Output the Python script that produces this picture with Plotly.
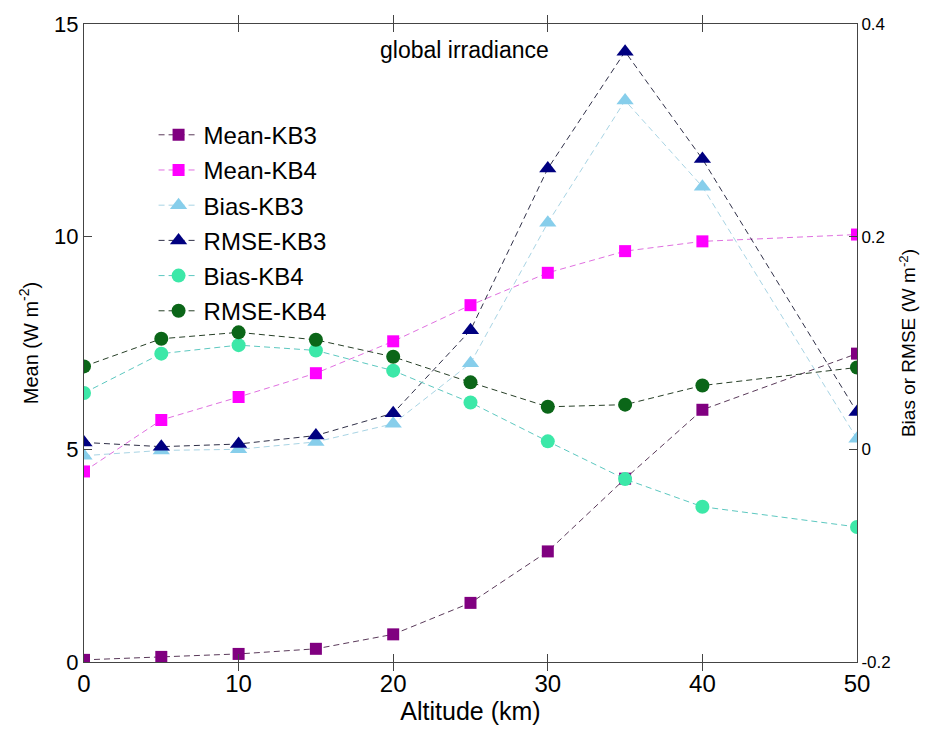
import plotly.graph_objects as go

altitude = [0, 5, 10, 15, 20, 25, 30, 35, 40, 50]

mean_kb3 = [0.05, 0.12, 0.19, 0.31, 0.65, 1.39, 2.60, 4.31, 5.93, 7.25]
mean_kb4 = [4.48, 5.69, 6.23, 6.79, 7.54, 8.39, 9.15, 9.66, 9.89, 10.05]
bias_kb3 = [-0.006, -0.001, 0.000, 0.007, 0.024, 0.081, 0.213, 0.328, 0.247, 0.010]
rmse_kb3 = [0.0065, 0.0025, 0.005, 0.013, 0.034, 0.112, 0.264, 0.374, 0.273, 0.035]
bias_kb4 = [0.053, 0.090, 0.098, 0.093, 0.074, 0.044, 0.0075, -0.028, -0.054, -0.073]
rmse_kb4 = [0.078, 0.104, 0.110, 0.103, 0.087, 0.063, 0.040, 0.042, 0.060, 0.077]

x_ticks = [0, 10, 20, 30, 40, 50]
left_ticks = [0, 5, 10, 15]
right_ticks = [-0.2, 0, 0.2, 0.4]
right_tick_text = ["-0.2", "0", "0.2", "0.4"]

FONT = "Arial, Liberation Sans, sans-serif"

series = [
    ("Mean-KB3", mean_kb3, "y", "square", "#800080", "#5a3a5a", 12),
    ("Mean-KB4", mean_kb4, "y", "square", "#ff00ff", "#e070e0", 12),
    ("Bias-KB3", bias_kb3, "y2", "triangle-up", "#87ceeb", "#a8d4e4", 15),
    ("RMSE-KB3", rmse_kb3, "y2", "triangle-up", "#000080", "#303048", 15),
    ("Bias-KB4", bias_kb4, "y2", "circle", "#3ce8a8", "#5cc8c0", 14),
    ("RMSE-KB4", rmse_kb4, "y2", "circle", "#0b6618", "#284028", 14),
]

fig = go.Figure()
for i, (name, vals, ax, sym, mcol, lcol, msize) in enumerate(series):
    fig.add_trace(go.Scatter(
        x=altitude, y=vals, name=name, yaxis=ax, mode="lines+markers",
        legendgroup="g%d" % i,
        line=dict(color=lcol, width=1, dash="6px,4px"),
        marker=dict(symbol=sym, size=msize, color=mcol, line=dict(width=0)),
    ))

fig.add_annotation(x=24.6, y=14.39, xref="x", yref="y", text="global irradiance",
                   showarrow=False, font=dict(family=FONT, size=23, color="black"))

fig.update_layout(
    width=936, height=733,
    margin=dict(l=84, r=79, t=21, b=71),
    paper_bgcolor="white", plot_bgcolor="white",
    font=dict(family=FONT, color="black"),
    showlegend=True,
    legend=dict(x=0.09, y=0.861, xanchor="left", yanchor="top",
                bgcolor="rgba(0,0,0,0)", borderwidth=0,
                font=dict(family=FONT, size=24, color="black"),
                tracegroupgap=1, itemwidth=40),
    xaxis=dict(range=[0, 50], tickvals=x_ticks, ticks="inside", ticklen=8,
               tickcolor="#444", showline=True, linecolor="#444", linewidth=1,
               mirror="allticks", showgrid=False, zeroline=False,
               tickfont=dict(size=24),
               title=dict(text="Altitude (km)", font=dict(size=25), standoff=2)),
    yaxis=dict(range=[0, 15], tickvals=left_ticks, ticks="inside", ticklen=8,
               tickcolor="#444", showline=True, linecolor="#444", linewidth=1,
               showgrid=False, zeroline=False, tickfont=dict(size=22),
               title=dict(text="Mean (W m<sup>-2</sup>)", font=dict(size=20), standoff=10)),
    yaxis2=dict(range=[-0.2, 0.4], tickvals=right_ticks, ticktext=right_tick_text,
                overlaying="y", side="right", ticks="inside", ticklen=8,
                tickcolor="#444", showline=True, linecolor="#444", linewidth=1,
                showgrid=False, zeroline=False, tickfont=dict(size=17),
                title=dict(text="Bias or RMSE (W m<sup>-2</sup>)", font=dict(size=19), standoff=12)),
)

fig.write_html("out.html")
